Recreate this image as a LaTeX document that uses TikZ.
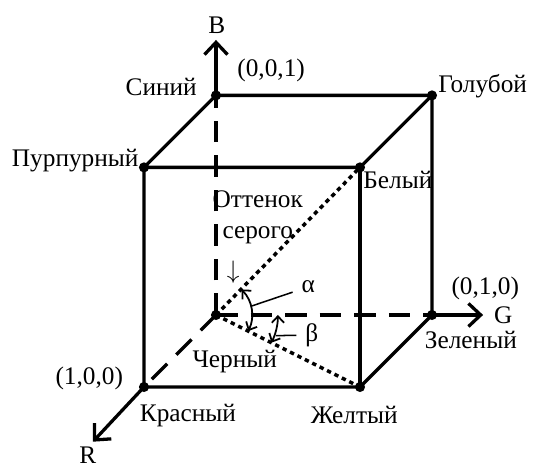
\documentclass[tikz,border=0pt]{standalone}
\usepackage{fontspec}
\setmainfont{Liberation Serif}
\usetikzlibrary{arrows.meta}

\begin{document}
\begin{tikzpicture}[font=\fontsize{10}{12.2}\selectfont,
  edge/.style={line width=1.3pt},
  hidden/.style={line width=1.3pt,dash pattern=on 0.3cm off 0.18cm},
  diag/.style={line width=1.4pt,dash pattern=on 0.06cm off 0.055cm},
  axis/.style={line width=1.3pt,-{Straight Barb[length=0.17cm,width=0.32cm]}},
  angarr/.style={line width=0.7pt,{Straight Barb[length=0.09cm,width=0.17cm]}-{Straight Barb[length=0.09cm,width=0.17cm]}},
  lbl/.style={inner sep=0pt}]
  \useasboundingbox (-3.0,-2.125) rectangle (4.403,4.375);
  % cube vertices
  \coordinate (Blk) at (0,0);
  \coordinate (Red) at (-1,-1);
  \coordinate (Grn) at (3,0);
  \coordinate (Blu) at (0,3.05);
  \coordinate (Yel) at (2,-1);
  \coordinate (Mag) at (-1,2.05);
  \coordinate (Cyn) at (3,3.05);
  \coordinate (Wht) at (2,2.05);
  % axis tips
  \coordinate (Btip) at (0,3.82);
  \coordinate (Gtip) at (3.71,0);
  \coordinate (Rtip) at (-1.71,-1.76);
  % edges
  \draw[edge] (Mag) -- (Blu) -- (Cyn) -- (Wht) -- (Mag) -- (Red) -- (Yel) -- (Grn) -- (Cyn);
  \draw[edge] (Wht) -- (Yel);
  \draw[hidden] (Blk) -- (Blu);
  \draw[hidden] (Blk) -- (Grn);
  \draw[hidden] (Blk) -- (Red);
  \draw[diag] (Blk) -- (Wht);
  \draw[diag] (Blk) -- (Yel);
  \draw[axis] (Blu) -- (Btip);
  \draw[axis] (Grn) -- (Gtip);
  \draw[axis] (Red) -- (Rtip);
  % angles
  \draw[angarr] (45:0.5) arc[start angle=45,end angle=-26.57,radius=0.5];
  \draw[angarr] (0:0.86) arc[start angle=0,end angle=-26.57,radius=0.86];
  \coordinate (pa) at (14:0.5);
  \coordinate (pb) at (-19:0.88);
  \node (talpha) at (1.28,0.39) {α};
  \node (tbeta) at (1.33,-0.28) {β};
  \draw[line width=0.6pt] (pa) -- (talpha);
  \draw[line width=0.6pt] (pb) -- (tbeta);
  \foreach \v in {Blk,Red,Grn,Blu,Yel,Mag,Cyn,Wht}
    \fill (\v) circle (2pt);
  % labels
  \foreach \x/\y/\anc/\nm/\lab in {-0.26/3.17/east/tblu/Синий,
      0.29/3.40/west/cblu/{(0,0,1)}, 3.08/3.18/west/tcyn/Голубой,
      -1.07/2.14/east/tmag/Пурпурный, 2.04/1.875/west/twht/Белый,
      0.26/-0.65/center/tblk/Черный, 3.74/0.375/center/cgrn/{(0,1,0)},
      3.54/-0.35/center/tgrn/Зеленый, -1.76/-0.875/center/cred/{(1,0,0)},
      -0.39/-1.39/center/tred/Красный, 1.92/-1.39/center/tyel/Желтый,
      0.01/4.03/center/tB/B, 3.99/0/center/tG/G, -1.78/-1.95/center/tR/R}
    \node[lbl,anchor=\anc] (\nm) at (\x,\y) {\lab};
  \node[lbl,align=center] (tgray) at (0.58,1.36) {Оттенок\\серого};
  \node[lbl] (tdown) at (0.24,0.60) {$\downarrow$};
\end{tikzpicture}
\end{document}
